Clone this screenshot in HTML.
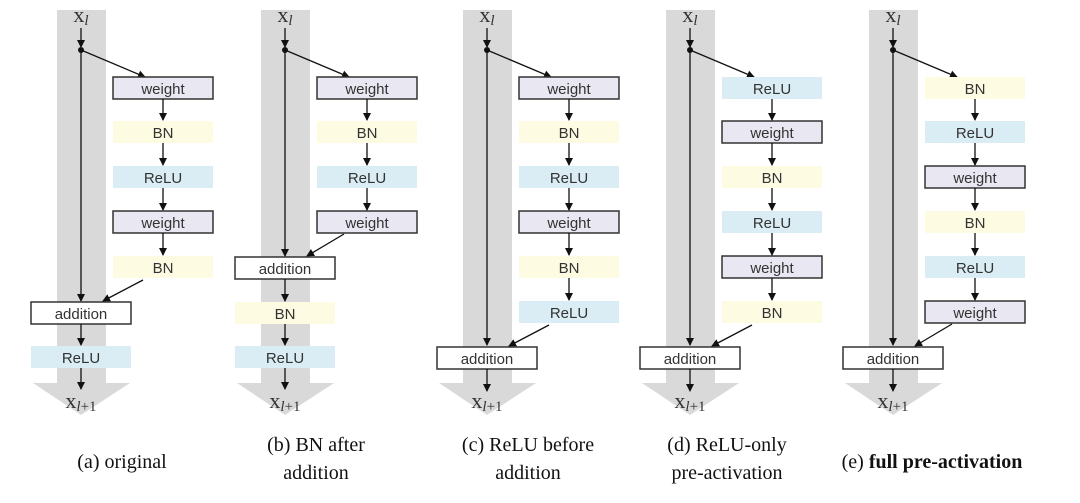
<!DOCTYPE html>
<html><head><meta charset="utf-8"><style>
body{margin:0;background:#fff}
svg{display:block}
.t{font-family:"Liberation Sans",sans-serif;font-size:15px;fill:#333;text-anchor:middle}
.x{font-family:"Liberation Serif",serif;font-size:22px;fill:#333;text-anchor:middle}
.cap{font-family:"Liberation Serif",serif;font-size:20px;fill:#111;text-anchor:middle}
.w{fill:#e9e7f1;stroke:#333;stroke-width:1.5}
.bn{fill:#fdfbe1}
.re{fill:#daedf4}
.ad{fill:#fff;stroke:#333;stroke-width:1.5}
.l{stroke:#111;stroke-width:1.3;fill:none}
</style></head><body>
<svg width="1080" height="503" viewBox="0 0 1080 503">
<defs>
<marker id="a" markerWidth="8" markerHeight="8" refX="7" refY="4" orient="auto" markerUnits="userSpaceOnUse"><path d="M0,0 L8,4 L0,8z" fill="#111"/></marker>
<g id="base">
<rect x="57" y="10" width="49" height="373" fill="#d9d9d9"/>
<polygon points="33,383 130,383 81,415" fill="#d9d9d9"/>
<line class="l" x1="81" y1="28" x2="81" y2="47" marker-end="url(#a)"/>
<circle cx="81" cy="50" r="3" fill="#111"/>
<line class="l" x1="81" y1="50" x2="145" y2="77" marker-end="url(#a)"/>
</g>
</defs>

<!-- (a) -->
<g>
<use href="#base"/>
<text class="x" x="81" y="22">x<tspan font-size="15" font-style="italic" dy="3">l</tspan></text>
<rect class="w" x="113" y="77" width="100" height="22"/><text class="t" x="163" y="94">weight</text>
<rect class="bn" x="113" y="121" width="100" height="22"/><text class="t" x="163" y="138">BN</text>
<rect class="re" x="113" y="166" width="100" height="22"/><text class="t" x="163" y="183">ReLU</text>
<rect class="w" x="113" y="211" width="100" height="22"/><text class="t" x="163" y="228">weight</text>
<rect class="bn" x="113" y="256" width="100" height="22"/><text class="t" x="163" y="273">BN</text>
<line class="l" x1="163" y1="99" x2="163" y2="120" marker-end="url(#a)"/>
<line class="l" x1="163" y1="143" x2="163" y2="165" marker-end="url(#a)"/>
<line class="l" x1="163" y1="188" x2="163" y2="210" marker-end="url(#a)"/>
<line class="l" x1="163" y1="233" x2="163" y2="255" marker-end="url(#a)"/>
<line class="l" x1="81" y1="50" x2="81" y2="301" marker-end="url(#a)"/>
<line class="l" x1="143" y1="280" x2="103" y2="301" marker-end="url(#a)"/>
<rect class="ad" x="31" y="302" width="100" height="22"/><text class="t" x="81" y="319">addition</text>
<rect class="re" x="31" y="346" width="100" height="22"/><text class="t" x="81" y="363">ReLU</text>
<line class="l" x1="81" y1="324" x2="81" y2="345" marker-end="url(#a)"/>
<line class="l" x1="81" y1="368" x2="81" y2="389" marker-end="url(#a)"/>
<text class="x" x="81" y="408">x<tspan font-size="15" font-style="italic" dy="3">l</tspan><tspan font-size="15" dy="0">+1</tspan></text>
<text class="cap" x="122" y="468">(a) original</text>
</g>

<!-- (b) -->
<g transform="translate(204,0)">
<use href="#base"/>
<text class="x" x="81" y="22">x<tspan font-size="15" font-style="italic" dy="3">l</tspan></text>
<rect class="w" x="113" y="77" width="100" height="22"/><text class="t" x="163" y="94">weight</text>
<rect class="bn" x="113" y="121" width="100" height="22"/><text class="t" x="163" y="138">BN</text>
<rect class="re" x="113" y="166" width="100" height="22"/><text class="t" x="163" y="183">ReLU</text>
<rect class="w" x="113" y="211" width="100" height="22"/><text class="t" x="163" y="228">weight</text>
<line class="l" x1="163" y1="99" x2="163" y2="120" marker-end="url(#a)"/>
<line class="l" x1="163" y1="143" x2="163" y2="165" marker-end="url(#a)"/>
<line class="l" x1="163" y1="188" x2="163" y2="210" marker-end="url(#a)"/>
<line class="l" x1="81" y1="50" x2="81" y2="256" marker-end="url(#a)"/>
<line class="l" x1="140" y1="234" x2="103" y2="256" marker-end="url(#a)"/>
<rect class="ad" x="31" y="257" width="100" height="22"/><text class="t" x="81" y="274">addition</text>
<rect class="bn" x="31" y="302" width="100" height="22"/><text class="t" x="81" y="319">BN</text>
<rect class="re" x="31" y="346" width="100" height="22"/><text class="t" x="81" y="363">ReLU</text>
<line class="l" x1="81" y1="279" x2="81" y2="301" marker-end="url(#a)"/>
<line class="l" x1="81" y1="324" x2="81" y2="345" marker-end="url(#a)"/>
<line class="l" x1="81" y1="368" x2="81" y2="389" marker-end="url(#a)"/>
<text class="x" x="81" y="408">x<tspan font-size="15" font-style="italic" dy="3">l</tspan><tspan font-size="15" dy="0">+1</tspan></text>
<text class="cap" x="112" y="451">(b) BN after</text>
<text class="cap" x="112" y="479">addition</text>
</g>

<!-- (c) -->
<g transform="translate(406,0)">
<use href="#base"/>
<text class="x" x="81" y="22">x<tspan font-size="15" font-style="italic" dy="3">l</tspan></text>
<rect class="w" x="113" y="77" width="100" height="22"/><text class="t" x="163" y="94">weight</text>
<rect class="bn" x="113" y="121" width="100" height="22"/><text class="t" x="163" y="138">BN</text>
<rect class="re" x="113" y="166" width="100" height="22"/><text class="t" x="163" y="183">ReLU</text>
<rect class="w" x="113" y="211" width="100" height="22"/><text class="t" x="163" y="228">weight</text>
<rect class="bn" x="113" y="256" width="100" height="22"/><text class="t" x="163" y="273">BN</text>
<rect class="re" x="113" y="301" width="100" height="22"/><text class="t" x="163" y="318">ReLU</text>
<line class="l" x1="163" y1="99" x2="163" y2="120" marker-end="url(#a)"/>
<line class="l" x1="163" y1="143" x2="163" y2="165" marker-end="url(#a)"/>
<line class="l" x1="163" y1="188" x2="163" y2="210" marker-end="url(#a)"/>
<line class="l" x1="163" y1="233" x2="163" y2="255" marker-end="url(#a)"/>
<line class="l" x1="163" y1="278" x2="163" y2="300" marker-end="url(#a)"/>
<line class="l" x1="81" y1="50" x2="81" y2="345" marker-end="url(#a)"/>
<line class="l" x1="143" y1="325" x2="103" y2="346" marker-end="url(#a)"/>
<rect class="ad" x="31" y="347" width="100" height="22"/><text class="t" x="81" y="364">addition</text>
<line class="l" x1="81" y1="369" x2="81" y2="391" marker-end="url(#a)"/>
<text class="x" x="81" y="408">x<tspan font-size="15" font-style="italic" dy="3">l</tspan><tspan font-size="15" dy="0">+1</tspan></text>
<text class="cap" x="122" y="451">(c) ReLU before</text>
<text class="cap" x="122" y="479">addition</text>
</g>

<!-- (d) -->
<g transform="translate(609,0)">
<use href="#base"/>
<text class="x" x="81" y="22">x<tspan font-size="15" font-style="italic" dy="3">l</tspan></text>
<rect class="re" x="113" y="77" width="100" height="22"/><text class="t" x="163" y="94">ReLU</text>
<rect class="w" x="113" y="121" width="100" height="22"/><text class="t" x="163" y="138">weight</text>
<rect class="bn" x="113" y="166" width="100" height="22"/><text class="t" x="163" y="183">BN</text>
<rect class="re" x="113" y="211" width="100" height="22"/><text class="t" x="163" y="228">ReLU</text>
<rect class="w" x="113" y="256" width="100" height="22"/><text class="t" x="163" y="273">weight</text>
<rect class="bn" x="113" y="301" width="100" height="22"/><text class="t" x="163" y="318">BN</text>
<line class="l" x1="163" y1="99" x2="163" y2="120" marker-end="url(#a)"/>
<line class="l" x1="163" y1="143" x2="163" y2="165" marker-end="url(#a)"/>
<line class="l" x1="163" y1="188" x2="163" y2="210" marker-end="url(#a)"/>
<line class="l" x1="163" y1="233" x2="163" y2="255" marker-end="url(#a)"/>
<line class="l" x1="163" y1="278" x2="163" y2="300" marker-end="url(#a)"/>
<line class="l" x1="81" y1="50" x2="81" y2="345" marker-end="url(#a)"/>
<line class="l" x1="143" y1="325" x2="103" y2="346" marker-end="url(#a)"/>
<rect class="ad" x="31" y="347" width="100" height="22"/><text class="t" x="81" y="364">addition</text>
<line class="l" x1="81" y1="369" x2="81" y2="391" marker-end="url(#a)"/>
<text class="x" x="81" y="408">x<tspan font-size="15" font-style="italic" dy="3">l</tspan><tspan font-size="15" dy="0">+1</tspan></text>
<text class="cap" x="118" y="451">(d) ReLU-only</text>
<text class="cap" x="118" y="479">pre-activation</text>
</g>

<!-- (e) -->
<g transform="translate(812,0)">
<use href="#base"/>
<text class="x" x="81" y="22">x<tspan font-size="15" font-style="italic" dy="3">l</tspan></text>
<rect class="bn" x="113" y="77" width="100" height="22"/><text class="t" x="163" y="94">BN</text>
<rect class="re" x="113" y="121" width="100" height="22"/><text class="t" x="163" y="138">ReLU</text>
<rect class="w" x="113" y="166" width="100" height="22"/><text class="t" x="163" y="183">weight</text>
<rect class="bn" x="113" y="211" width="100" height="22"/><text class="t" x="163" y="228">BN</text>
<rect class="re" x="113" y="256" width="100" height="22"/><text class="t" x="163" y="273">ReLU</text>
<rect class="w" x="113" y="301" width="100" height="22"/><text class="t" x="163" y="318">weight</text>
<line class="l" x1="163" y1="99" x2="163" y2="120" marker-end="url(#a)"/>
<line class="l" x1="163" y1="143" x2="163" y2="165" marker-end="url(#a)"/>
<line class="l" x1="163" y1="188" x2="163" y2="210" marker-end="url(#a)"/>
<line class="l" x1="163" y1="233" x2="163" y2="255" marker-end="url(#a)"/>
<line class="l" x1="163" y1="278" x2="163" y2="300" marker-end="url(#a)"/>
<line class="l" x1="81" y1="50" x2="81" y2="345" marker-end="url(#a)"/>
<line class="l" x1="140" y1="324" x2="103" y2="346" marker-end="url(#a)"/>
<rect class="ad" x="31" y="347" width="100" height="22"/><text class="t" x="81" y="364">addition</text>
<line class="l" x1="81" y1="369" x2="81" y2="391" marker-end="url(#a)"/>
<text class="x" x="81" y="408">x<tspan font-size="15" font-style="italic" dy="3">l</tspan><tspan font-size="15" dy="0">+1</tspan></text>
<text class="cap" x="120" y="468">(e) <tspan font-weight="bold">full pre-activation</tspan></text>
</g>
</svg>
</body></html>
